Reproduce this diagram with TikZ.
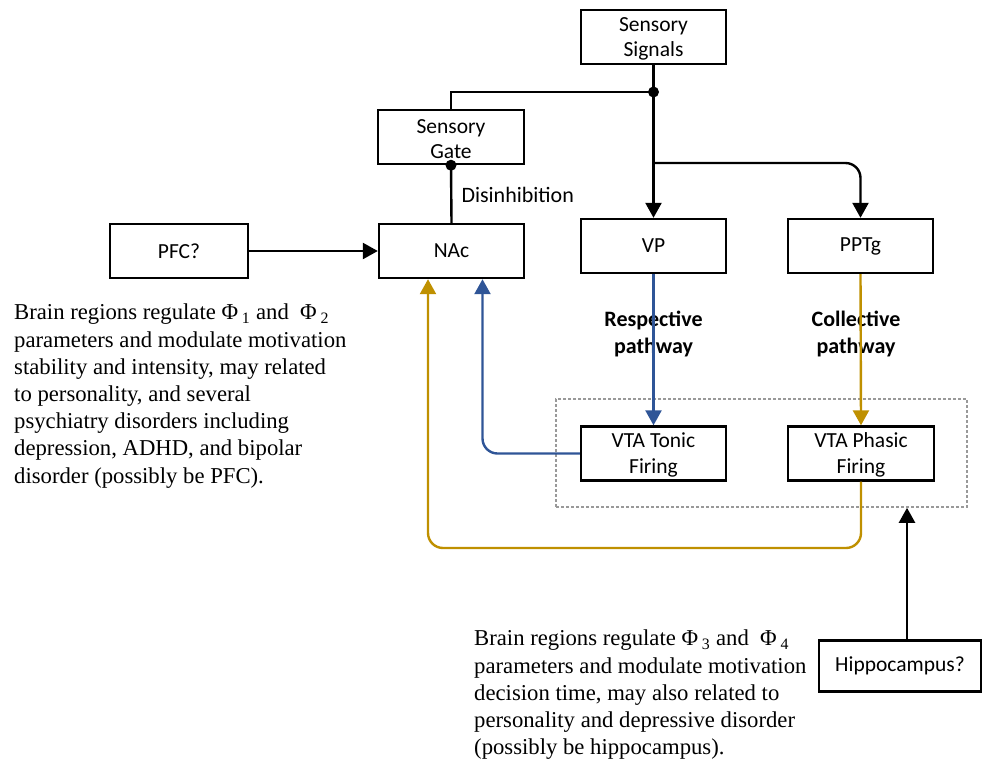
\documentclass[tikz,border=0pt]{standalone}
\usepackage{fontspec}
\setmainfont{Liberation Serif}
\newfontfamily\boxfont{Carlito}
\usetikzlibrary{arrows.meta}
\definecolor{pblue}{HTML}{2F5597}
\definecolor{pgold}{HTML}{BF9000}
\newcommand\sbx[1]{\textsubscript{#1}}
\begin{document}
\begin{tikzpicture}[x=1pt,y=-1pt,
  box/.style={draw, line width=2.4pt, minimum width=145pt, minimum height=54pt, inner sep=0pt,
    align=center, font=\boxfont\fontsize{21.5}{25.5}\selectfont},
  arr/.style={line width=2.4pt, -{Triangle[length=15pt,width=16pt]}},
  plain/.style={line width=2.4pt},
  para/.style={align=left, anchor=north west, inner sep=0pt, font=\fontsize{22.7}{27.2}\selectfont},
  blab/.style={align=center, font=\boxfont\bfseries\fontsize{22}{27}\selectfont}]
\useasboundingbox (0,0) rectangle (982,764);
% boxes
\node[box] (ss) at (653.5,37) {\strut Sensory\\Signals};
\node[box, minimum width=146pt] (sg) at (451,137) {\strut Sensory\\Gate};
\node[box] (nac) at (451.5,251) {NAc};
\node[box, minimum width=138pt] (pfc) at (179,251) {PFC?};
\node[box] (vp) at (653.5,246) {VP};
\node[box] (ppt) at (860.5,246) {PPTg};
\node[draw=gray!80, dashed, line width=1.6pt, dash pattern=on 3pt off 2pt, minimum width=411pt, minimum height=108pt, inner sep=0pt] (vta) at (761.5,453) {};
\node[box] (tonic) at (653.5,453.5) {\strut VTA Tonic\\Firing};
\node[box, minimum width=146pt] (phasic) at (861,453.5) {\strut VTA Phasic\\Firing};
\node[box, minimum width=162pt, minimum height=51pt] (hip) at (900,666) {Hippocampus?};
% labels
\node[font=\boxfont\fontsize{22}{26}\selectfont, anchor=west] (dis) at (458,195) {Disinhibition};
\node[blab] (rp) at (653.5,333.5) {Respective\\pathway};
\node[blab] (cp) at (856,333.5) {Collective\\pathway};
\node[para] (t1) at (14,304) {Brain regions regulate Φ\,\sbx{1} and \ Φ\,\sbx{2}\\parameters and modulate motivation\\stability and intensity, may related\\to personality, and several\\psychiatry disorders including\\depression, ADHD, and bipolar\\disorder (possibly be PFC).};
\node[para] (t2) at (474,630) {Brain regions regulate Φ\,\sbx{3} and \ Φ\,\sbx{4}\\parameters and modulate motivation\\decision time, may also related to\\personality and depressive disorder\\(possibly be hippocampus).};
% connectors
\coordinate (j) at (653.5,92);
\coordinate (br) at (653.5,163);
\draw[plain] (ss.south) -- (j);
\draw[plain] (j) -| (sg.north);
\draw[arr] (j) -- (vp.north);
\draw[arr, rounded corners=15pt] (br) -| (ppt.north);
\fill (j) circle (5.5pt);
\draw[plain] (sg.south) -- (nac.north);
\fill (sg.south) circle (5.5pt);
\draw[arr] (pfc.east) -- (nac.west);
\draw[arr, pblue] (vp.south) -- (tonic.north);
\draw[arr, pgold] (ppt.south) -- (phasic.north);
\draw[arr, pblue, rounded corners=15pt] (tonic.west) -| ([xshift=31pt]nac.south);
\coordinate (gl) at (428,548);
\draw[arr, pgold, rounded corners=15pt] (phasic.south) |- (gl) -- ([xshift=-23.5pt]nac.south);
\draw[arr] ([xshift=7pt]hip.north) -- ([xshift=7pt]hip.north |- vta.south);
\end{tikzpicture}
\end{document}
